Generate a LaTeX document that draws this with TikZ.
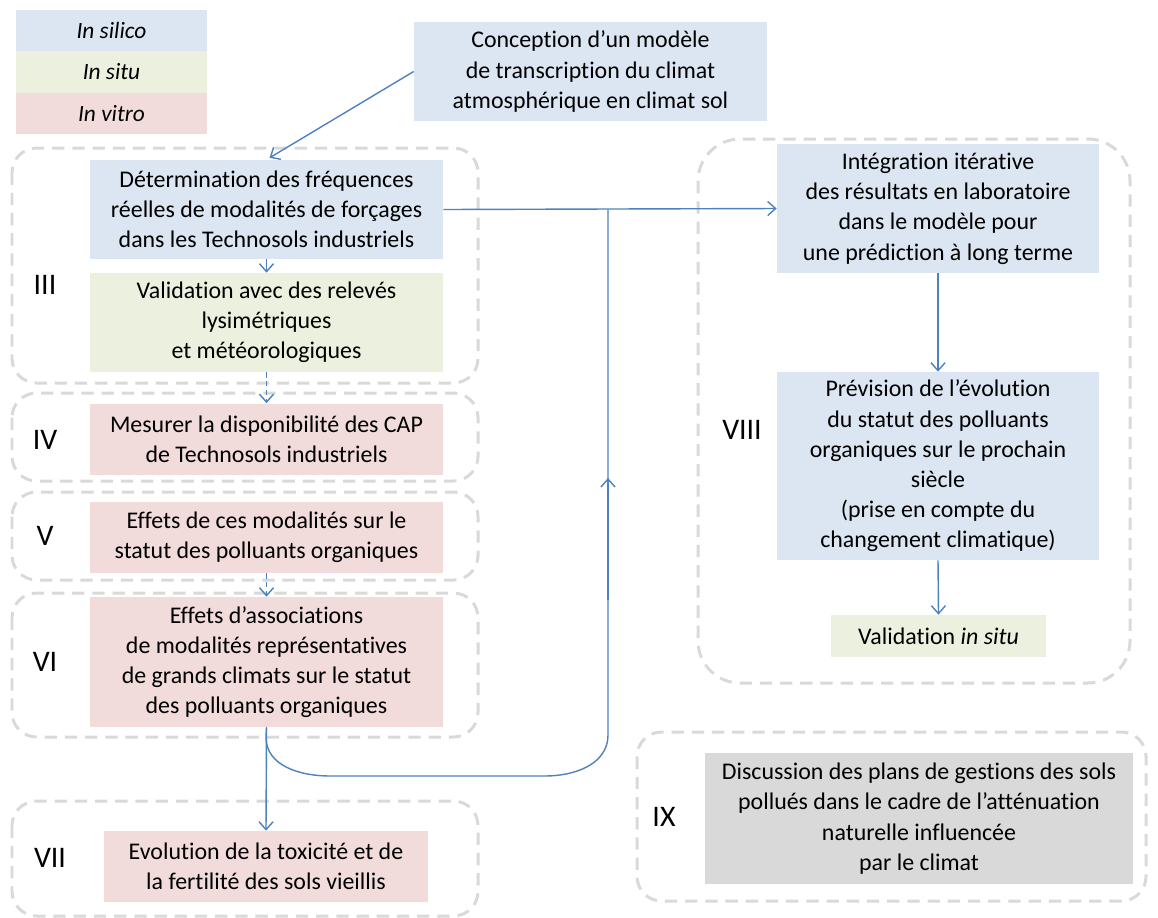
\documentclass[tikz,border=0pt]{standalone}
\usepackage{fontspec}
\setmainfont{Carlito}[Ligatures=NoCommon]
\usetikzlibrary{arrows.meta}
\definecolor{silico}{HTML}{DCE6F2}
\definecolor{situ}{HTML}{EBF1DE}
\definecolor{vitro}{HTML}{F2DCDB}
\definecolor{discgray}{HTML}{D9D9D9}
\definecolor{grpgray}{HTML}{D9D9D9}
\definecolor{linkblue}{HTML}{4F81BD}
\tikzset{
  box/.style={align=center, inner sep=0pt, font=\fontsize{13.6}{17.2}\selectfont},
  legend/.style={minimum width=191*0.02cm, inner sep=0pt, font=\fontsize{13.3}{15}\selectfont\itshape},
  grp/.style={draw=grpgray, line width=1.7pt, dash pattern=on 7pt off 4.5pt, rounded corners=14pt},
  numeral/.style={font=\fontsize{17}{20}\selectfont},
  link/.style={draw=linkblue, line width=0.8pt},
  arr/.style={link, -{Straight Barb[length=4.5pt,width=8pt]}},
}

\begin{document}
\begin{tikzpicture}[x=0.02cm, y=-0.02cm]
			%%%%% START %%%%%
			\useasboundingbox (0, 0) rectangle (1158, 917);
			
			% legend
			\node[legend, fill=silico, minimum height=41*0.02cm] (silico) at (111.5, 30.5) {In silico};
			\node[legend, fill=situ, minimum height=42*0.02cm] (situ) at (111.5, 72) {In situ};
			\node[legend, fill=vitro, minimum height=41*0.02cm] (vitro) at (111.5, 113.5) {In vitro};
			
			% dashed groups
			\draw[grp] (12, 148) rectangle (478, 383);
			\draw[grp] (12, 393) rectangle (478, 481);
			\draw[grp] (12, 492) rectangle (478, 580);
			\draw[grp] (12, 593) rectangle (478, 737);
			\draw[grp] (12, 801) rectangle (478, 916);
			\draw[grp, rounded corners=24pt] (698, 139) rectangle (1130, 683);
			\draw[grp] (637, 732) rectangle (1146, 901);
			
			\node[numeral] (nIII) at (45, 285) {III};
			\node[numeral] (nIV) at (45, 440) {IV};
			\node[numeral] (nV) at (45, 536) {V};
			\node[numeral] (nVI) at (45, 662) {VI};
			\node[numeral] (nVII) at (50, 858) {VII};
			\node[numeral] (nVIII) at (742, 430) {VIII};
			\node[numeral] (nIX) at (664, 817) {IX};
			
			% boxes
			\node[box, fill=silico, minimum width=353*0.02cm, minimum height=99*0.02cm] (concept) at (590.5, 71.5)
			  {Conception d’un modèle\\de transcription du climat\\atmosphérique en climat sol};
			\node[box, fill=silico, minimum width=353*0.02cm, minimum height=99*0.02cm] (determ) at (266.5, 209.5)
			  {Détermination des fréquences\\réelles de modalités de forçages\\dans les Technosols industriels};
			\node[box, fill=situ, minimum width=353*0.02cm, minimum height=99*0.02cm] (valid) at (266.5, 322.5)
			  {Validation avec des relevés\\lysimétriques\\et météorologiques};
			\node[box, fill=vitro, minimum width=353*0.02cm, minimum height=71*0.02cm] (dispo) at (266.5, 439)
			  {Mesurer la disponibilité des CAP\\de Technosols industriels};
			\node[box, fill=vitro, minimum width=353*0.02cm, minimum height=71*0.02cm] (effets) at (266.5, 537.5)
			  {Effets de ces modalités sur le\\statut des polluants organiques};
			\node[box, fill=vitro, minimum width=353*0.02cm, minimum height=130*0.02cm] (assoc) at (266.5, 662)
			  {Effets d’associations\\de modalités représentatives\\de grands climats sur le statut\\des polluants organiques};
			\node[box, fill=vitro, minimum width=324*0.02cm, minimum height=71*0.02cm] (toxic) at (266, 866.5)
			  {Evolution de la toxicité et de\\la fertilité des sols vieillis};
			
			\node[box, fill=silico, minimum width=322*0.02cm, minimum height=129*0.02cm] (integ) at (938, 208.5)
			  {Intégration itérative\\des résultats en laboratoire\\dans le modèle pour\\une prédiction à long terme};
			\node[box, fill=silico, minimum width=322*0.02cm, minimum height=188*0.02cm] (prevision) at (938, 466)
			  {Prévision de l’évolution\\du statut des polluants\\organiques sur le prochain\\siècle\\(prise en compte du\\changement climatique)};
			\node[box, fill=situ, minimum width=215*0.02cm, minimum height=42*0.02cm] (validsitu) at (938.5, 636)
			  {Validation \textit{in situ}};
			\node[box, fill=discgray, minimum width=428*0.02cm, minimum height=131*0.02cm] (discuss) at (919, 818.5)
			  {Discussion des plans de gestions des sols\\pollués dans le cadre de l’atténuation\\naturelle influencée\\par le climat};
			
			% connectors
			\draw[arr, shorten >=2pt] (concept.west) -- (determ.north);
			\draw[arr] (determ.south) -- (valid.north);
			\draw[arr, dash pattern=on 3pt off 2pt] (valid.south) -- (dispo.north);
			\draw[arr, dash pattern=on 3pt off 2pt] (effets.south) -- (assoc.north);
			\draw[arr] (assoc.south) -- (toxic.north);
			
			\draw[arr] (determ.east) -- (integ.west);
			\coordinate (joint) at (608, 209.5);
			\coordinate (mid) at (608, 478);
			\draw[link] (assoc.south) -- (266, 737) to[out=-90, in=180] (330, 776) -- (545, 776)
			  to[out=0, in=-90] (608, 735) -- (mid) -- (joint);
			\draw[arr] (608, 600) -- (mid);
			
			\draw[arr] (integ.south) -- (prevision.north);
			\draw[arr] (prevision.south) -- (validsitu.north);
			%%%%% END %%%%%
\end{tikzpicture}
\end{document}
